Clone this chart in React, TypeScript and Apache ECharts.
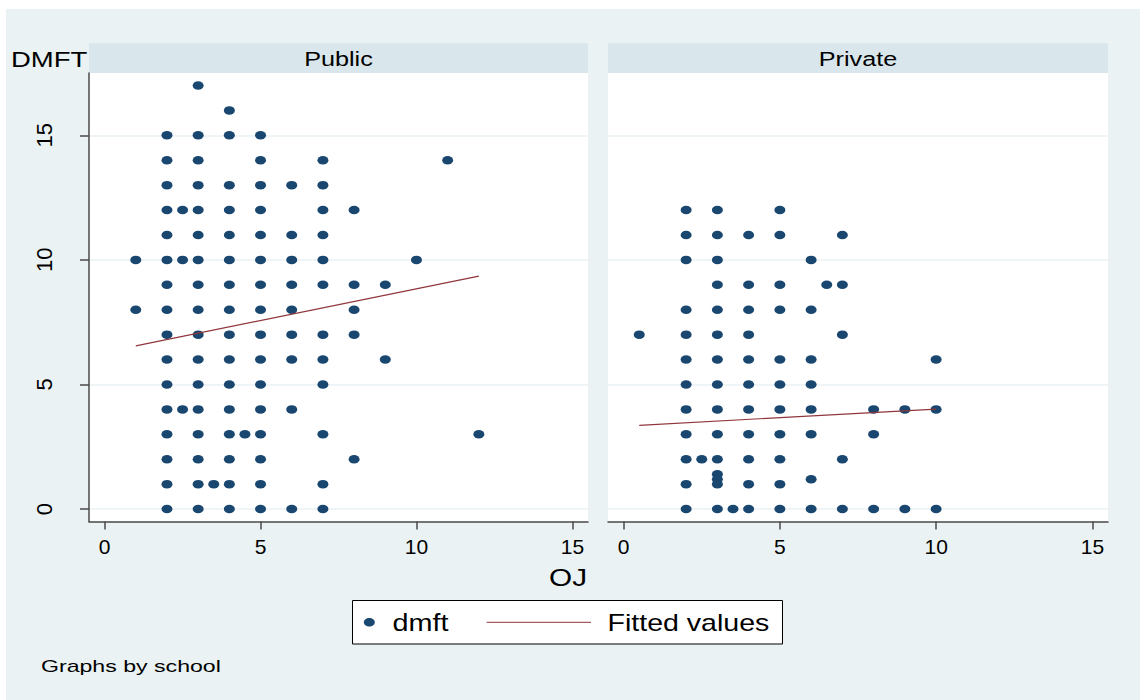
import React, { useEffect, useRef } from "react";
import * as echarts from "echarts";

// ---- data ----
const panelNames = ["Public", "Private"];
const xTicks = [0, 5, 10, 15];
const yTicks = [0, 5, 10, 15];

// [OJ, DMFT]
const publicPoints: [number, number][] = [
  [3, 17],
  [4, 16],
  [2, 15], [3, 15], [4, 15], [5, 15],
  [2, 14], [3, 14], [5, 14], [7, 14], [11, 14],
  [2, 13], [3, 13], [4, 13], [5, 13], [6, 13], [7, 13],
  [2, 12], [2.5, 12], [3, 12], [4, 12], [5, 12], [7, 12], [8, 12],
  [2, 11], [3, 11], [4, 11], [5, 11], [6, 11], [7, 11],
  [1, 10], [2, 10], [2.5, 10], [3, 10], [4, 10], [5, 10], [6, 10], [7, 10], [10, 10],
  [2, 9], [3, 9], [4, 9], [5, 9], [6, 9], [7, 9], [8, 9], [9, 9],
  [1, 8], [2, 8], [3, 8], [4, 8], [5, 8], [6, 8], [8, 8],
  [2, 7], [3, 7], [4, 7], [5, 7], [6, 7], [7, 7], [8, 7],
  [2, 6], [3, 6], [4, 6], [5, 6], [6, 6], [7, 6], [9, 6],
  [2, 5], [3, 5], [4, 5], [5, 5], [7, 5],
  [2, 4], [2.5, 4], [3, 4], [4, 4], [5, 4], [6, 4],
  [2, 3], [3, 3], [4, 3], [4.5, 3], [5, 3], [7, 3], [12, 3],
  [2, 2], [3, 2], [4, 2], [5, 2], [8, 2],
  [2, 1], [3, 1], [3.5, 1], [4, 1], [5, 1], [7, 1],
  [2, 0], [3, 0], [4, 0], [5, 0], [6, 0], [7, 0],
];

const privatePoints: [number, number][] = [
  [2, 12], [3, 12], [5, 12],
  [2, 11], [3, 11], [4, 11], [5, 11], [7, 11],
  [2, 10], [3, 10], [6, 10],
  [3, 9], [4, 9], [5, 9], [6.5, 9], [7, 9],
  [2, 8], [3, 8], [4, 8], [5, 8], [6, 8],
  [0.5, 7], [2, 7], [3, 7], [4, 7], [7, 7],
  [2, 6], [3, 6], [4, 6], [5, 6], [6, 6], [10, 6],
  [2, 5], [3, 5], [4, 5], [5, 5], [6, 5],
  [2, 4], [3, 4], [4, 4], [5, 4], [6, 4], [8, 4], [9, 4], [10, 4],
  [2, 3], [3, 3], [4, 3], [5, 3], [6, 3], [8, 3],
  [2, 2], [2.5, 2], [3, 2], [4, 2], [5, 2], [7, 2],
  [3, 1.4], [3, 1.2], [6, 1.2],
  [2, 1], [3, 1], [4, 1], [5, 1],
  [2, 0], [3, 0], [3.5, 0], [4, 0], [5, 0], [6, 0], [7, 0], [8, 0], [9, 0], [10, 0],
];

const fitPublic: [number, number][] = [[1, 6.55], [12, 9.35]];
const fitPrivate: [number, number][] = [[0.5, 3.36], [10, 4.01]];

const FONT = "'Liberation Sans', Arial, Helvetica, sans-serif";
const DOT = "#1a476f";
const FIT = "#90353b";
const BG = "#eaf2f3";
const STRIP = "#d9e6eb";
const AXIS = "#4a4a4a";
const ELLIPSE = "path://M0,5 A5,5 0 1,0 10,5 A5,5 0 1,0 0,5 Z";

const grids = [
  { left: 89, top: 73, width: 499, height: 448.5 },
  { left: 608, top: 73, width: 500, height: 448.5 },
];

export default function App() {
  const ref = useRef<HTMLDivElement>(null);

  useEffect(() => {
    if (!ref.current) return;
    const chart = echarts.init(ref.current, undefined, { renderer: "svg" });

    const xAxis = grids.map((_, i) => ({
      type: "value",
      gridIndex: i,
      min: -0.5,
      max: 15.5,
      axisLine: { show: true, onZero: false, lineStyle: { color: AXIS, width: 1.5 } },
      axisTick: {
        show: true,
        length: 8,
        customValues: xTicks,
        lineStyle: { color: AXIS, width: 1.5 },
      },
      axisLabel: {
        show: true,
        customValues: xTicks,
        margin: 14,
        fontSize: 21,
        color: "#000",
        fontFamily: FONT,
        hideOverlap: false,
      },
      splitLine: { show: false },
    }));

    const yAxis = grids.map((_, i) => ({
      type: "value",
      gridIndex: i,
      min: -0.5,
      max: 17.5,
      axisLine: { show: i === 0, onZero: false, lineStyle: { color: AXIS, width: 1.5 } },
      axisTick: {
        show: i === 0,
        length: 9,
        customValues: yTicks,
        lineStyle: { color: AXIS, width: 1.5 },
      },
      axisLabel: {
        show: i === 0,
        customValues: yTicks,
        rotate: 90,
        margin: 34,
        fontSize: 22,
        color: "#000",
        fontFamily: FONT,
        hideOverlap: false,
      },
      splitLine: {
        show: true,
        customValues: yTicks,
        lineStyle: { color: BG, width: 1.5 },
      },
    }));

    const scatterStyle = {
      type: "scatter",
      symbol: ELLIPSE,
      symbolSize: [11, 8.5],
      itemStyle: { color: DOT, opacity: 1 },
      z: 3,
    };
    const lineStyle = {
      type: "line",
      showSymbol: false,
      symbol: "none",
      lineStyle: { color: FIT, width: 1.2 },
      z: 4,
    };

    const stripTop = 43.3;
    const stripH = 29.7;

    const graphic: any[] = [
      { type: "rect", z: -10, silent: true, shape: { x: 6, y: 9, width: 1134, height: 691 }, style: { fill: BG } },
      ...grids.map((g) => ({
        type: "rect",
        z: -5,
        silent: true,
        shape: { x: g.left, y: stripTop, width: g.width, height: stripH },
        style: { fill: STRIP },
      })),
      ...grids.map((g, i) => ({
        type: "text",
        x: g.left + g.width / 2,
        y: stripTop + stripH / 2 + 0.5,
        scaleX: 1.2,
        style: {
          text: panelNames[i],
          fill: "#000",
          font: `21px ${FONT}`,
          textAlign: "center",
          textVerticalAlign: "middle",
        },
      })),
      {
        type: "text",
        x: 11,
        y: 59,
        scaleX: 1.25,
        style: { text: "DMFT", fill: "#000", font: `22px ${FONT}`, textAlign: "left", textVerticalAlign: "middle" },
      },
      {
        type: "text",
        x: 568,
        y: 578,
        scaleX: 1.24,
        style: { text: "OJ", fill: "#000", font: `24px ${FONT}`, textAlign: "center", textVerticalAlign: "middle" },
      },
      // legend
      {
        type: "rect",
        shape: { x: 352.5, y: 600.5, width: 430, height: 43.5 },
        style: { fill: "#fff", stroke: "#000", lineWidth: 1 },
      },
      {
        type: "ellipse",
        shape: { cx: 369.3, cy: 622.3, rx: 5.5, ry: 4.3 },
        style: { fill: DOT },
      },
      {
        type: "text",
        x: 392.5,
        y: 623,
        scaleX: 1.2,
        style: { text: "dmft", fill: "#000", font: `24px ${FONT}`, textAlign: "left", textVerticalAlign: "middle" },
      },
      {
        type: "line",
        shape: { x1: 486.7, y1: 622.3, x2: 591, y2: 622.3 },
        style: { stroke: FIT, lineWidth: 1 },
      },
      {
        type: "text",
        x: 607.5,
        y: 623,
        scaleX: 1.19,
        style: { text: "Fitted values", fill: "#000", font: `24px ${FONT}`, textAlign: "left", textVerticalAlign: "middle" },
      },
      {
        type: "text",
        x: 41,
        y: 666,
        scaleX: 1.36,
        style: { text: "Graphs by school", fill: "#000", font: `17px ${FONT}`, textAlign: "left", textVerticalAlign: "middle" },
      },
    ];

    chart.setOption({
      animation: false,
      backgroundColor: "#fff",
      grid: grids.map((g) => ({ ...g, show: true, backgroundColor: "#fff", borderWidth: 0, containLabel: false })),
      xAxis,
      yAxis,
      series: [
        { ...scatterStyle, name: "dmft", xAxisIndex: 0, yAxisIndex: 0, data: publicPoints },
        { ...lineStyle, name: "Fitted values", xAxisIndex: 0, yAxisIndex: 0, data: fitPublic },
        { ...scatterStyle, name: "dmft", xAxisIndex: 1, yAxisIndex: 1, data: privatePoints },
        { ...lineStyle, name: "Fitted values", xAxisIndex: 1, yAxisIndex: 1, data: fitPrivate },
      ],
      graphic,
    });

    return () => chart.dispose();
  }, []);

  return (
    <div
      ref={ref}
      style={{ position: "absolute", left: 0, top: 0, width: 1140, height: 700 }}
    />
  );
}
